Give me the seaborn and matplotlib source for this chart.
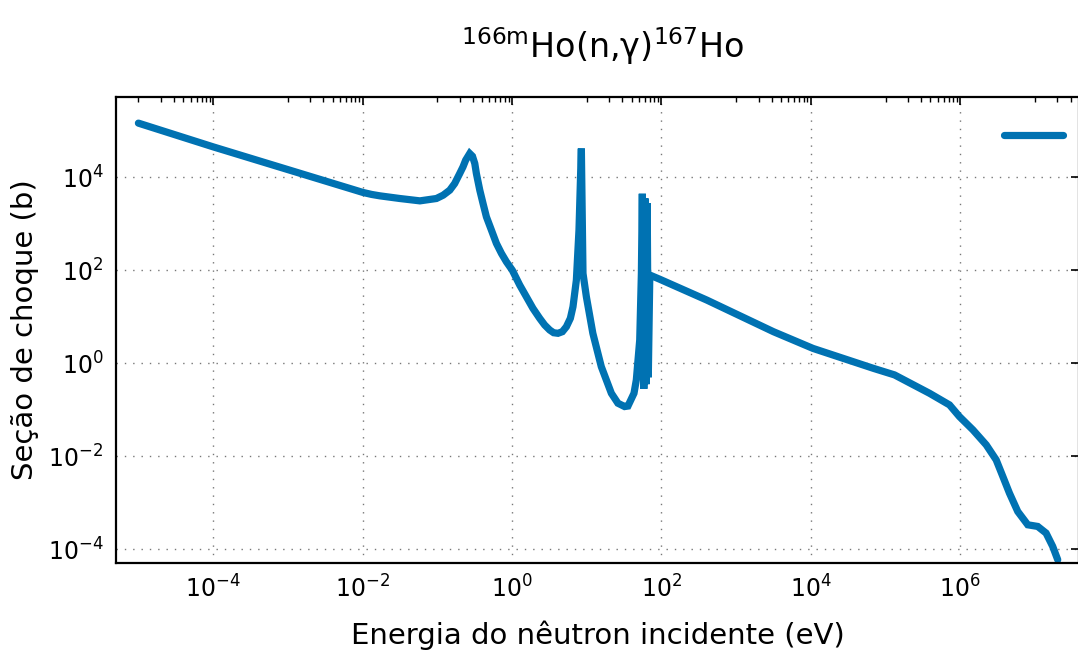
import numpy as np
import pandas as pd
import seaborn as sns
import matplotlib
matplotlib.use('Agg')
import matplotlib.pyplot as plt
from matplotlib.lines import Line2D
from matplotlib.ticker import NullFormatter, NullLocator

# Energia (eV) e seção de choque (b)
energia = [1.0e-5, 1.0e-4, 1.0e-2, 1.32e-2, 1.70e-2, 3.15e-2, 5.86e-2, 9.75e-2, 0.120, 0.147,
           0.171, 0.200, 0.221, 0.240, 0.272, 0.296, 0.318, 0.334, 0.371, 0.410,
           0.455, 0.531, 0.619, 0.723, 0.843, 1.01, 1.27, 1.56, 1.91, 2.35,
           2.74, 3.20, 3.61, 4.13, 4.73, 5.35, 6.05, 6.56, 7.28, 7.89,
           8.49, 8.93, 9.91, 12.1, 15.7, 21.4, 26.2, 32.2, 35.7, 43.0,
           46.2, 51.3, 54.0, 55.6, 58.2, 60.3, 62.4, 64.6, 66.8, 70.0,
           94.8, 407.0, 3.16e3, 1.07e4, 6.92e4, 1.32e5, 3.88e5, 7.19e5, 9.77e5, 1.48e6,
           2.23e6, 3.03e6, 3.72e6, 4.56e6, 5.89e6, 8.02e6, 1.09e7, 1.41e7, 1.73e7, 2.02e7]
secao = [1.48e5, 4.57e4, 4.79e3, 4.32e3, 4.03e3, 3.53e3, 3.14e3, 3.53e3, 4.16e3, 5.33e3,
         7.40e3, 1.22e4, 1.69e4, 2.36e4, 3.28e4, 2.87e4, 2.00e4, 1.22e4, 5.33e3, 2.76e3,
         1.42e3, 736.0, 381.0, 232.0, 153.0, 101.0, 48.3, 27.0, 15.2, 9.29,
         6.67, 5.20, 4.55, 4.42, 4.79, 6.12, 9.29, 16.5, 61.8, 736.0,
         4.2e4, 86.1, 27.0, 4.42, 0.845, 0.226, 0.138, 0.117, 0.120, 0.226,
         0.438, 3.17, 86.1, 4.47e3, 0.282, 3.55e3, 0.355, 2.82e3, 0.50, 79.4,
         64.6, 22.9, 4.79, 2.09, 0.776, 0.562, 0.226, 0.127, 0.0711, 0.0368,
         0.0175, 8.32e-3, 3.65e-3, 1.60e-3, 6.44e-4, 3.33e-4, 3.07e-4, 2.21e-4, 1.14e-4, 5.89e-5]

xticks = [1e-4, 1e-2, 1e0, 1e2, 1e4, 1e6]
yticks = [1e-4, 1e-2, 1e0, 1e2, 1e4]

df = pd.DataFrame({'E': energia, 'sigma': secao})
cor = '#0072b2'

sns.set_style('white')
plt.rcParams['font.family'] = ['DejaVu Sans']
plt.rcParams.update({'text.color': 'black', 'axes.labelcolor': 'black',
                     'xtick.color': 'black', 'ytick.color': 'black'})

fig = plt.figure(figsize=(10.78, 6.53), dpi=100)
ax = fig.add_axes([116/1078, 1 - 563/653, (1079 - 116)/1078, (563 - 97)/653])

sns.lineplot(data=df, x='E', y='sigma', ax=ax, sort=False, estimator=None,
             color=cor, linewidth=5.2, solid_joinstyle='miter')

ax.set_xscale('log')
ax.set_yscale('log')

ax.set_xticks(xticks)
ax.set_yticks(yticks)
minors = [k * 10.0**d for d in (-5, -3, -1, 1, 3, 5, 7) for k in range(1, 10)]
ax.set_xticks(minors, minor=True)
ax.xaxis.set_minor_formatter(NullFormatter())
ax.yaxis.set_minor_locator(NullLocator())
ax.set_xlim(10**-5.30, 10**7.59)
ax.set_ylim(10**-4.30, 10**5.733)

ax.tick_params(which='both', direction='in', top=True, right=True, colors='black')
ax.tick_params(which='major', length=6, width=1.2, labelsize=17)
ax.tick_params(which='minor', length=3.5, width=1.0)
ax.tick_params(axis='y', pad=9)
ax.tick_params(axis='x', pad=9)

ax.grid(True, which='major', linestyle=(0, (1, 5)), color='#777777', linewidth=1.0)
for s in ax.spines.values():
    s.set_linewidth(1.6)
    s.set_color('black')

ax.set_xlabel('Energia do nêutron incidente (eV)', fontsize=21, labelpad=13)
ax.set_ylabel('Seção de choque (b)', fontsize=21, labelpad=6)

fig.text(603/1078, 1 - 46/653, r'$^{\mathrm{166m}}$Ho(n,γ)$^{\mathrm{167}}$Ho',
         fontsize=24, ha='center', va='center')

leg = ax.legend(handles=[Line2D([], [], color=cor, linewidth=5.2)], labels=[''],
                loc='center right', bbox_to_anchor=((1063 - 116)/(1079 - 116), (563 - 136)/(563 - 97)),
                frameon=False, handlelength=2.5, handletextpad=0, borderpad=0,
                borderaxespad=0, fontsize=17)

fig.savefig('out.png', dpi=100)
